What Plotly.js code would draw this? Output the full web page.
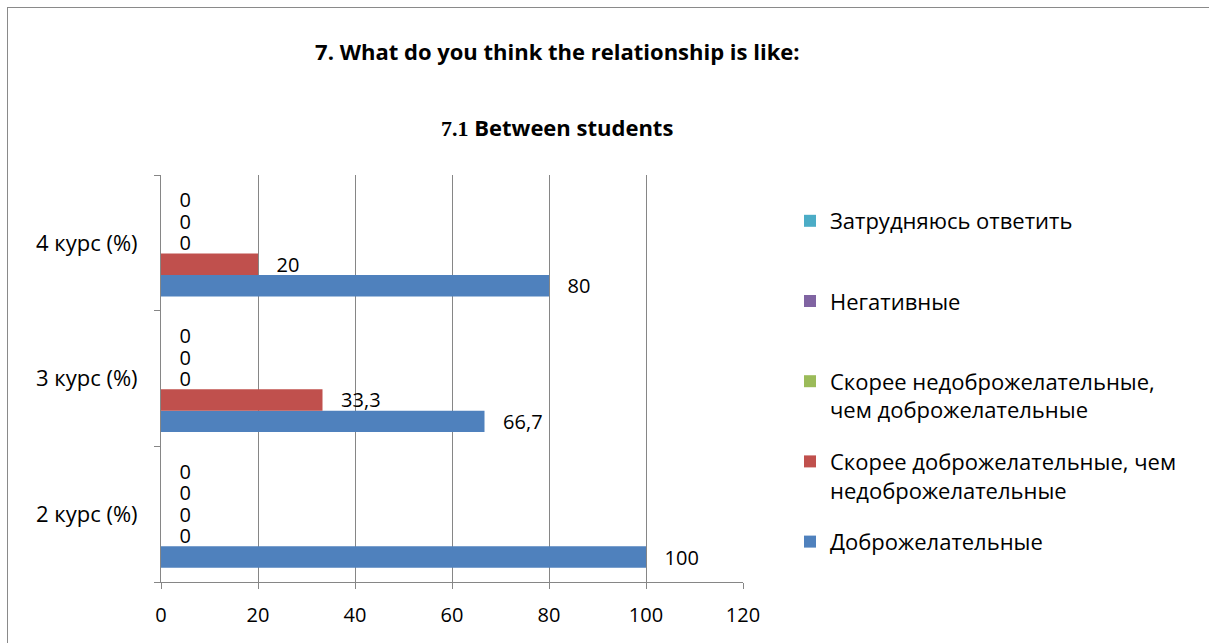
<!DOCTYPE html>
<html>
<head>
<meta charset="utf-8">
<script src="https://cdn.plot.ly/plotly-3.0.1.min.js"></script>
<style>
html,body{margin:0;padding:0;background:#fff;}
#wrap{position:relative;width:1209px;height:643px;overflow:hidden;}
#chart{width:1209px;height:643px;}
#frame{position:absolute;left:7px;top:7px;width:1300px;height:800px;border:1.5px solid #8a8a8a;pointer-events:none;box-sizing:border-box;}
</style>
</head>
<body>
<div id="wrap"><div id="chart"></div><div id="frame"></div></div>
<script>
// Data
var categories = ['2 курс (%)', '3 курс (%)', '4 курс (%)'];
var seriesNames = [
  'Доброжелательные',
  'Скорее доброжелательные, чем<br>недоброжелательные',
  'Скорее недоброжелательные,<br>чем доброжелательные',
  'Негативные',
  'Затрудняюсь ответить'
];
var friendly        = [100, 66.7, 80];
var ratherFriendly  = [0, 33.3, 20];
var ratherUnfriendly= [0, 0, 0];
var negative        = [0, 0, 0];
var hardToSay       = [0, 0, 0];
var xTicks = [0, 20, 40, 60, 80, 100, 120];

var colors = ['#4F81BD', '#C0504D', '#9BBB59', '#8064A2', '#4BACC6'];
var allValues = [friendly, ratherFriendly, ratherUnfriendly, negative, hardToSay];

var PAD = '\u00a0\u00a0\u00a0';
function labels(vals){ return vals.map(function(v){ return PAD + String(v).replace('.', ','); }); }

var FONT = "'Open Sans', Carlito, Calibri, sans-serif";

var traces = allValues.map(function(vals, i){
  var name = seriesNames[i];
  if (name.indexOf('<br>') < 0) name = name + '<br>\u00a0';
  return {
    type: 'bar',
    orientation: 'h',
    name: name,
    legendgroup: 'g' + i,
    legendrank: 100 - i,
    x: vals,
    y: categories,
    marker: {color: colors[i], line: {width: 0}},
    text: labels(vals),
    textposition: 'outside',
    constraintext: 'none',
    cliponaxis: false,
    textfont: {family: FONT, size: 20, color: '#000'},
    hoverinfo: 'x+name'
  };
});

var layout = {
  width: 1209,
  height: 643,
  paper_bgcolor: '#fff',
  plot_bgcolor: '#fff',
  font: {family: FONT, size: 20, color: '#000'},
  margin: {l: 161, r: 466, t: 175, b: 61, pad: 0},
  barmode: 'group',
  bargap: 0.21,
  bargroupgap: 0,
  title: {
    text: '<b>7. What do you think the relationship is like:</b>',
    font: {family: FONT, size: 22, color: '#000'},
    xref: 'container', yref: 'container',
    x: 0.461, xanchor: 'center',
    y: 1 - 52/643, yanchor: 'middle'
  },
  annotations: [{
    text: '<b><span style="font-family:\'Liberation Serif\',\'Times New Roman\',serif">7.1</span> Between students</b>',
    xref: 'paper', yref: 'paper',
    x: (557 - 161)/582, y: (582 - 127)/407,
    xanchor: 'center', yanchor: 'middle',
    showarrow: false,
    font: {family: FONT, size: 22, color: '#000'}
  }],
  xaxis: {
    range: [0, 120],
    tickvals: xTicks,
    ticktext: xTicks.map(String),
    showgrid: true,
    gridcolor: '#868686',
    gridwidth: 1,
    zeroline: false,
    showline: true,
    linecolor: '#868686',
    linewidth: 1,
    ticks: 'outside',
    ticklen: 6,
    tickcolor: '#868686',
    ticklabelstandoff: 9,
    tickfont: {family: FONT, size: 20, color: '#000'},
    fixedrange: true
  },
  yaxis: {
    type: 'category',
    categoryorder: 'array',
    categoryarray: categories,
    showgrid: false,
    zeroline: false,
    showline: true,
    linecolor: '#868686',
    linewidth: 1,
    ticks: 'outside',
    tickson: 'boundaries',
    ticklen: 6,
    tickcolor: '#868686',
    ticklabelstandoff: 18,
    tickfont: {family: FONT, size: 22, color: '#000'},
    fixedrange: true
  },
  showlegend: true,
  legend: {
    x: (790 - 161)/582,
    xanchor: 'left',
    y: (582 - 200)/407,
    yanchor: 'top',
    traceorder: 'grouped',
    tracegroupgap: 20,
    valign: 'top',
    font: {family: FONT, size: 22, color: '#000'},
    bgcolor: 'rgba(0,0,0,0)',
    borderwidth: 0
  },
  hovermode: false
};

Plotly.newPlot('chart', traces, layout, {displayModeBar: false, staticPlot: true});
</script>
</body>
</html>
